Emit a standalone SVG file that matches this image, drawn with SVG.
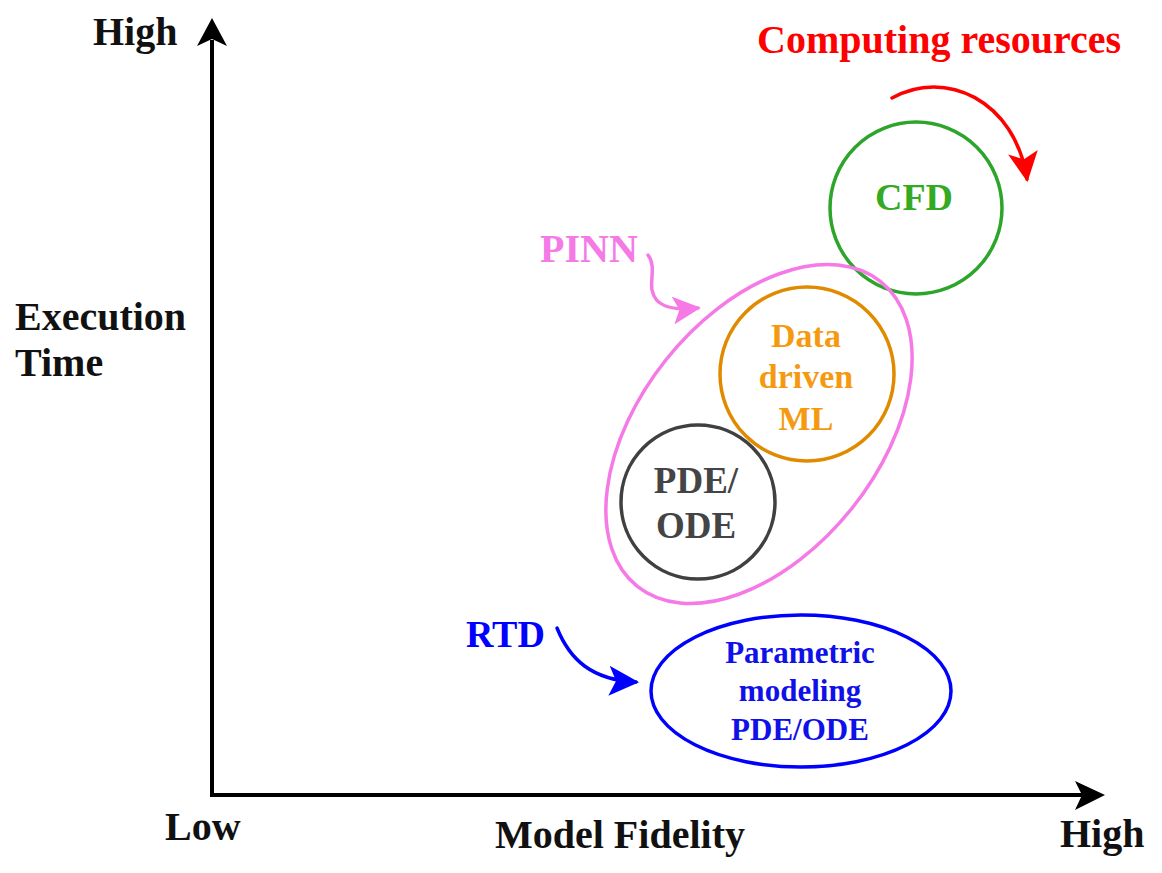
<svg xmlns="http://www.w3.org/2000/svg" width="1162" height="873" viewBox="0 0 1162 873">
<style>
text{font-family:"Liberation Serif","Times New Roman",serif;font-weight:bold;}
.ax{fill:#111;font-size:40px;}
.mid{text-anchor:middle;}
.shape{fill:none;stroke-width:3.5;}
.conn{fill:none;stroke-width:3.5;stroke-linecap:round;}
</style>
<defs>
<marker id="mRed" viewBox="0 0 30 30" markerWidth="30" markerHeight="30" refX="27" refY="15" orient="auto" markerUnits="userSpaceOnUse"><path d="M0,0 L30,15 L0,30 L7,15 z" fill="#ff0000"/></marker>
<marker id="mPink" viewBox="0 0 30 30" markerWidth="28" markerHeight="28" refX="27" refY="15" orient="auto" markerUnits="userSpaceOnUse"><path d="M0,0 L30,15 L0,30 L7,15 z" fill="#f57ae6"/></marker>
<marker id="mBlue" viewBox="0 0 30 30" markerWidth="30" markerHeight="30" refX="27" refY="15" orient="auto" markerUnits="userSpaceOnUse"><path d="M0,0 L30,15 L0,30 L7,15 z" fill="#0000ff"/></marker>
</defs>
<rect width="1162" height="873" fill="#ffffff"/>

<g id="axes">
<path d="M212,40 L212,795 L1085,795" fill="none" stroke="#000" stroke-width="4"/>
<polygon points="212,18 227,46 212,39 197,46" fill="#000"/>
<polygon points="1105,795 1075,781 1082,795 1075,810" fill="#000"/>
<text class="ax" x="93" y="45">High</text>
<text class="ax" x="15" y="330">Execution</text>
<text class="ax" x="15" y="376">Time</text>
<text class="ax" x="165" y="840" font-size="38">Low</text>
<text class="ax" x="495" y="848" font-size="41">Model Fidelity</text>
<text class="ax" x="1060" y="847">High</text>
</g>

<g id="cfd">
<circle class="shape" cx="916" cy="208" r="86" stroke="#2ca52a"/>
<text class="mid" x="914" y="210" font-size="38" fill="#33aa22">CFD</text>
</g>

<g id="pinn">
<ellipse class="shape" cx="759" cy="434" rx="195" ry="119" transform="rotate(-51.4 759 434)" stroke="#f57ae6"/>
<text x="540" y="262" font-size="40" fill="#f57ae6">PINN</text>
</g>

<g id="data-driven-ml">
<circle class="shape" cx="807" cy="374" r="87" stroke="#e08a00"/>
<text class="mid" x="806" y="347" font-size="34" fill="#f59a10">Data</text>
<text class="mid" x="806" y="388" font-size="34" fill="#f59a10">driven</text>
<text class="mid" x="806" y="430" font-size="34" fill="#f59a10">ML</text>
</g>

<g id="pde-ode">
<circle class="shape" cx="698" cy="502" r="77" stroke="#404040"/>
<text class="mid" x="696" y="493" font-size="37" fill="#444444">PDE/</text>
<text class="mid" x="696" y="538" font-size="37" fill="#444444">ODE</text>
</g>

<g id="parametric">
<ellipse class="shape" cx="801" cy="691" rx="150" ry="76" stroke="#0000ff"/>
<text class="mid" x="800" y="663" font-size="31" fill="#1010e8">Parametric</text>
<text class="mid" x="800" y="701" font-size="31" fill="#1010e8">modeling</text>
<text class="mid" x="800" y="740" font-size="31" fill="#1010e8">PDE/ODE</text>
</g>

<g id="rtd">
<text x="466" y="647" font-size="38" fill="#0000ff">RTD</text>
</g>

<g id="resources">
<text x="757" y="53" font-size="40" fill="#ff0000">Computing resources</text>
</g>

<g id="connectors">
<path class="conn" d="M892,98 C945,68 1015,100 1027,179" stroke="#ff0000" marker-end="url(#mRed)"/>
<path class="conn" d="M648,255 C656,265 650,280 652,290 C655,305 668,311 698,308" stroke="#f57ae6" marker-end="url(#mPink)"/>
<path class="conn" d="M557,628 C570,660 592,680 636,682" stroke="#0000ff" marker-end="url(#mBlue)"/>
</g>
</svg>
